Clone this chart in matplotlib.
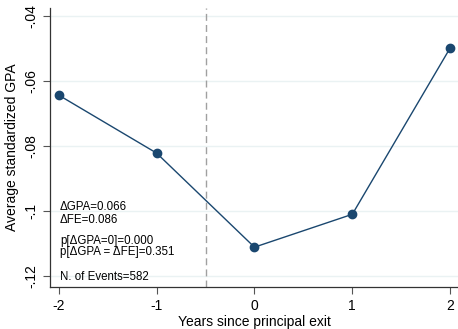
import matplotlib
matplotlib.use("Agg")
import matplotlib.pyplot as plt

years = [-2, -1, 0, 1, 2]
gpa = [-0.0643, -0.0821, -0.1110, -0.1009, -0.0498]
yticks = [-0.12, -0.10, -0.08, -0.06, -0.04]
ytick_labels = ['-.12', '-.1', '-.08', '-.06', '-.04']
notes = ['\u0394GPA=0.066', '\u0394FE=0.086', 'p[\u0394GPA=0]=0.000',
         'p[\u0394GPA = \u0394FE]=0.351', 'N. of Events=582']

plt.rcParams['font.family'] = ['Liberation Sans', 'DejaVu Sans']

fig = plt.figure(figsize=(4.58, 3.29), dpi=100)
ax = fig.add_axes([0.109, 0.128, 0.891, 0.848])

ax.plot(years, gpa, color='#1a476f', linewidth=1.0, marker='o',
        markersize=6, zorder=3)
ax.axvline(-0.5, color='#a0a0a0', linestyle=(0, (5, 3)), linewidth=1.0)

ax.set_xlim(-2.09, 2.08)
ax.set_ylim(-0.1232, -0.0375)
ax.set_xticks(years)
ax.set_xticklabels(['-2', '-1', '0', '1', '2'], fontsize=10)
ax.set_yticks(yticks)
ax.set_yticklabels(ytick_labels, fontsize=10, rotation=90, va='center')
ax.yaxis.grid(True, color='#eaf2f3', linewidth=1.0)
ax.set_axisbelow(True)
ax.tick_params(length=5, width=0.8, color='#555555')

for s in ['top', 'right']:
    ax.spines[s].set_visible(False)
for s in ['left', 'bottom']:
    ax.spines[s].set_color('#333333')
    ax.spines[s].set_linewidth(0.9)

ax.set_xlabel('Years since principal exit', fontsize=10, labelpad=2)
ax.set_ylabel('Average standardized GPA', fontsize=10, labelpad=4)

ypos = [0.285, 0.240, 0.166, 0.124, 0.036]
for t, y in zip(notes, ypos):
    ax.text(0.0245, y, t, transform=ax.transAxes, fontsize=8.3,
            va='center', ha='left')

fig.savefig('out.png', dpi=100)
